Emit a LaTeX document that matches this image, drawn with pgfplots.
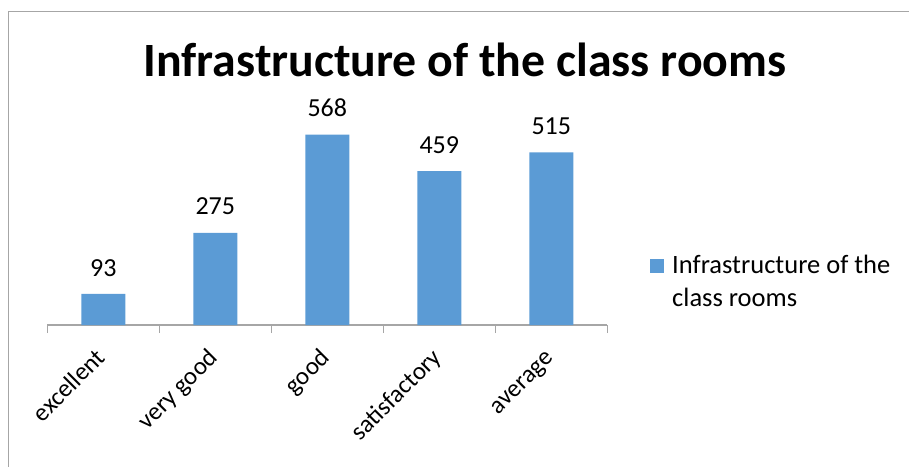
\documentclass[border=0pt]{standalone}
\usepackage{fontspec}
\setmainfont{Carlito}
\usepackage{pgfplots}
\pgfplotsset{compat=1.18}
\definecolor{barblue}{HTML}{5B9BD5}
\definecolor{axgray}{HTML}{A6A6A6}
\begin{document}
\begin{tikzpicture}
\useasboundingbox (0,0) rectangle (909pt,466pt);
\draw[axgray, line width=1.3pt] (8.5pt,-2pt) -- (8.5pt,454.5pt) -- (912pt,454.5pt);
\begin{axis}[
  at={(47.3pt,141pt)}, anchor=south west,
  scale only axis, width=560pt, height=201.2pt,
  xmin=-0.5, xmax=4.5, ymin=0, ymax=600,
  ybar, bar width=44pt,
  axis x line=bottom, axis y line=none,
  x axis line style={axgray, line width=1.3pt, -},
  xtick={0,1,2,3,4},
  xticklabels={excellent,very good,good,satisfactory,average},
  minor xtick={-0.5,0.5,1.5,2.5,3.5,4.5},
  major tick length=0pt, minor tick length=8pt,
  tick align=outside,
  every tick/.style={axgray, line width=1.3pt},
  ytick=\empty,
  /pgf/number format/assume math mode=true,
  xticklabel style={font=\fontsize{25}{30}\selectfont, inner sep=0pt, xshift=3.5pt, yshift=-34pt, rotate=45, anchor=base east},
  nodes near coords,
  every node near coord/.append style={font=\fontsize{26}{30}\selectfont, anchor=base, inner sep=0pt, yshift=17.8pt, text=black},
  title={Infrastructure of the class rooms},
  title style={font=\fontsize{47.8}{52}\selectfont\bfseries, at={(axis description cs:0.746,1.2028)}, anchor=base, inner sep=0pt},
  legend style={draw=none, fill=none, inner sep=0pt, at={(axis description cs:1.0763,0.373)}, anchor=north west, nodes={inner sep=0pt}, column sep=8pt, font=\fontsize{26.5}{33}\selectfont},
  legend cell align=left,
]
\addplot[fill=barblue, draw=none, legend image code/.code={\fill[barblue] (0pt,-0.5ex-8pt) rectangle (14pt,6pt-0.5ex);}] coordinates {(0,93) (1,275) (2,568) (3,459) (4,515)};
\addlegendentry{\begin{tabular}[t]{@{}l@{}}Infrastructure of the\\class rooms\end{tabular}}
\end{axis}
\end{tikzpicture}
\end{document}
